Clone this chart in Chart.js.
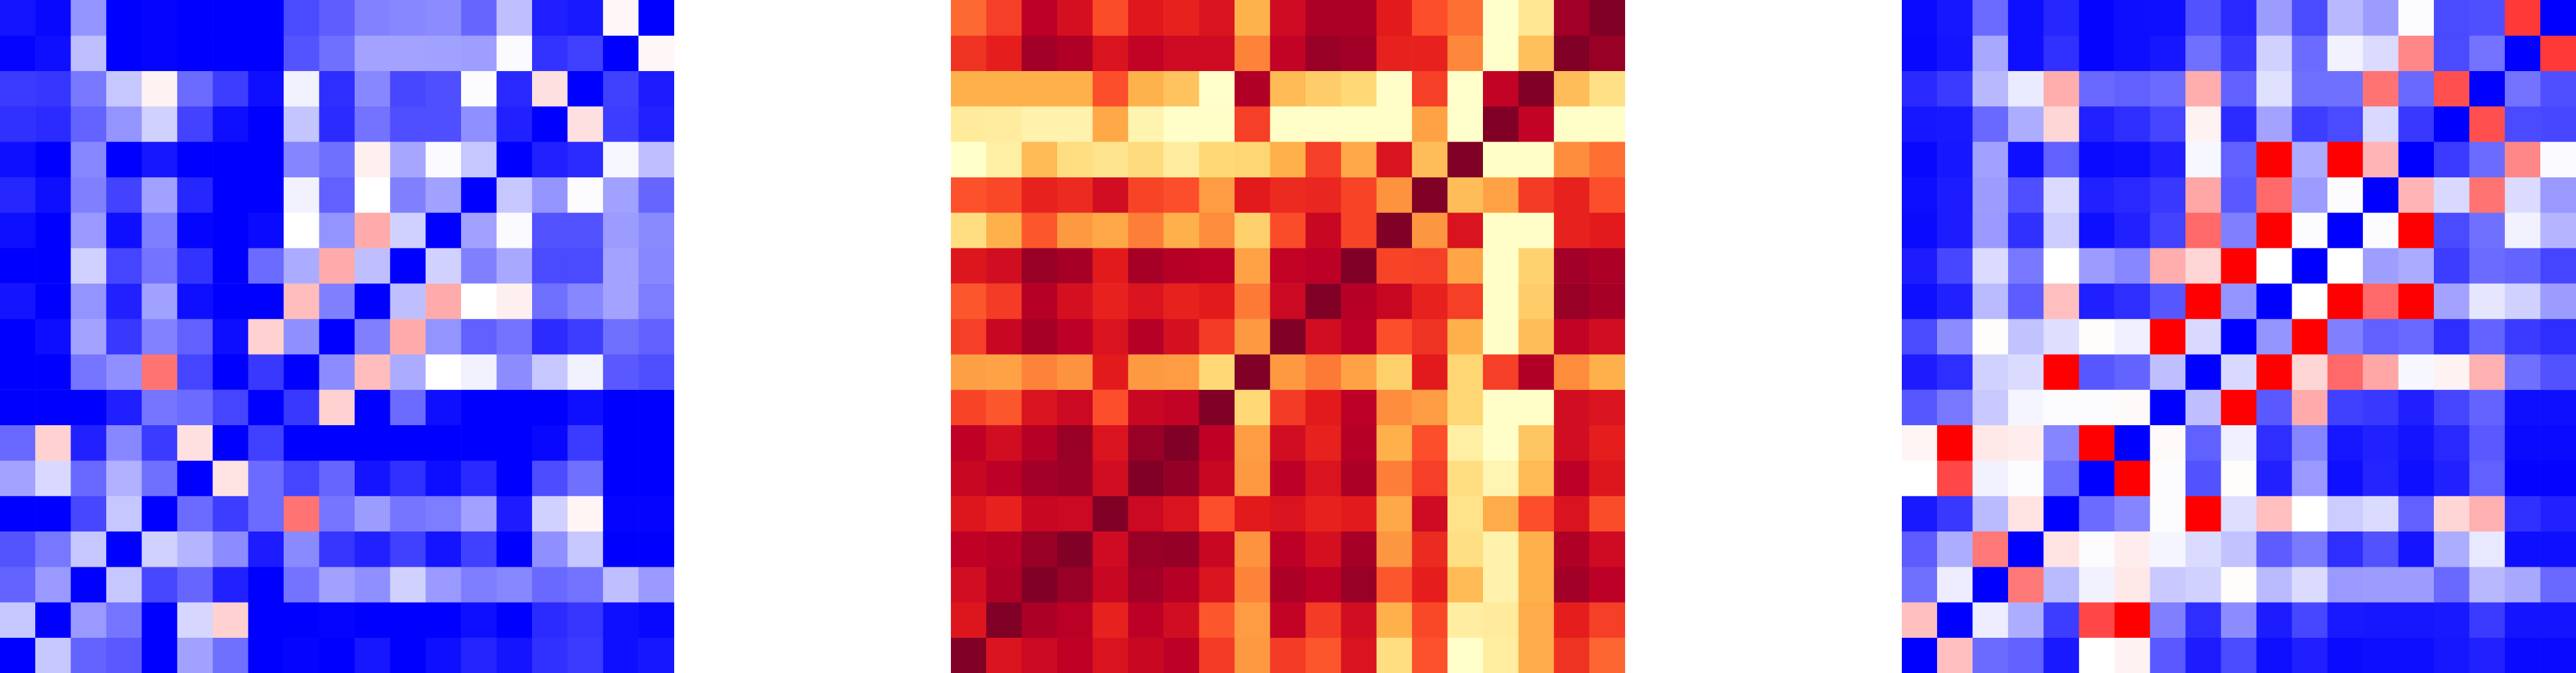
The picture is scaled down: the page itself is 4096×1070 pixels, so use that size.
<!DOCTYPE html>
<html>
<head>
<meta charset="utf-8">
<title>Heatmaps</title>
<script src="https://cdn.jsdelivr.net/npm/chart.js@4/dist/chart.umd.min.js"></script>
<style>
  html, body { margin: 0; padding: 0; background: #fff; overflow: hidden; }
  #page { position: relative; width: 4096px; height: 1070px; }
  canvas { position: absolute; top: 0; }
</style>
</head>
<body>
<div id="page">
  <canvas id="left" width="1072" height="1070" style="left:0"></canvas>
  <canvas id="middle" width="1072" height="1070" style="left:1512px"></canvas>
  <canvas id="right" width="1072" height="1070" style="left:3024px"></canvas>
</div>
<script>
const cells = ["1","2","3","4","5","6","7","8","9","10","11","12","13","14","15","16","17","18","19"];

// left panel, blue (-1) .. white (0) .. red (1)
const leftRows = [
  [-.92,-.97,-.42,-1,-.98,-1,-1,-1,-.71,-.63,-.49,-.47,-.45,-.6,-.25,-.88,-.9,.03,-1],
  [-.98,-.94,-.25,-1,-.98,-1,-1,-1,-.67,-.56,-.36,-.36,-.37,-.38,-.02,-.8,-.75,-1,.03],
  [-.77,-.79,-.53,-.22,.05,-.58,-.76,-.94,-.05,-.82,-.47,-.72,-.69,-.01,-.84,.12,-1,-.75,-.89],
  [-.81,-.83,-.61,-.42,-.18,-.74,-.94,-1,-.23,-.83,-.55,-.69,-.69,-.44,-.87,-1,.12,-.76,-.87],
  [-.94,-1,-.47,-1,-.91,-1,-1,-1,-.48,-.56,.06,-.35,-.02,-.22,-1,-.87,-.83,-.03,-.25],
  [-.85,-.94,-.5,-.74,-.37,-.85,-1,-1,-.05,-.62,0,-.5,-.37,-1,-.22,-.42,-.01,-.37,-.6],
  [-.94,-1,-.4,-.94,-.51,-.98,-1,-.96,0,-.42,.33,-.18,-1,-.37,-.02,-.68,-.68,-.39,-.46],
  [-1,-1,-.18,-.73,-.55,-.8,-1,-.58,-.33,.33,-.25,-1,-.18,-.5,-.34,-.71,-.71,-.36,-.47],
  [-.92,-1,-.42,-.87,-.37,-.94,-1,-1,.26,-.5,-1,-.25,.33,0,.06,-.56,-.47,-.36,-.51],
  [-1,-.95,-.36,-.78,-.49,-.62,-.95,.18,-.44,-1,-.5,.33,-.42,-.62,-.55,-.83,-.76,-.56,-.62],
  [-1,-1,-.54,-.44,.55,-.73,-1,-.78,-1,-.45,.26,-.33,0,-.05,-.45,-.22,-.05,-.65,-.69],
  [-1,-1,-1,-.88,-.54,-.58,-.73,-1,-.78,.18,-1,-.58,-.94,-1,-1,-1,-.94,-1,-1],
  [-.59,.18,-.87,-.47,-.77,.12,-1,-.75,-1,-1,-1,-1,-1,-1,-1,-.97,-.77,-1,-1],
  [-.36,-.15,-.59,-.31,-.56,-1,.11,-.58,-.73,-.6,-.92,-.81,-.95,-.84,-1,-.7,-.56,-1,-1],
  [-1,-1,-.72,-.22,-1,-.58,-.76,-.58,.55,-.54,-.39,-.54,-.51,-.37,-.89,-.18,.04,-.98,-.98],
  [-.67,-.53,-.22,-1,-.18,-.29,-.45,-.89,-.46,-.79,-.87,-.75,-.92,-.75,-1,-.44,-.22,-1,-1],
  [-.61,-.4,-1,-.22,-.72,-.6,-.87,-1,-.55,-.37,-.44,-.18,-.4,-.51,-.47,-.59,-.55,-.25,-.4],
  [-.22,-1,-.4,-.54,-1,-.16,.18,-1,-1,-.98,-1,-1,-1,-.94,-1,-.83,-.79,-.94,-.97],
  [-1,-.22,-.61,-.65,-1,-.37,-.56,-1,-.98,-1,-.91,-1,-.94,-.86,-.92,-.81,-.77,-.94,-.91]
];

// middle panel, pale yellow (0) .. dark red (1)
const middleRows = [
  [.57,.66,.875,.8,.63,.76,.73,.78,.375,.82,.91,.91,.75,.625,.56,0,.16,.93,1],
  [.69,.74,.93,.9,.78,.86,.82,.82,.52,.86,.95,.93,.73,.73,.51,0,.33,1,.95],
  [.38,.38,.38,.38,.625,.375,.32,0,.9,.35,.29,.25,.01,.66,0,.86,1,.34,.2],
  [.14,.13,.09,.09,.41,.08,.01,.01,.66,.01,.01,.01,.01,.43,0,1,.86,.01,.01],
  [0,.11,.35,.22,.18,.23,.13,.25,.26,.38,.66,.41,.78,.34,1,.01,.01,.5,.56],
  [.62,.64,.73,.71,.81,.65,.625,.45,.75,.71,.72,.65,.48,1,.34,.43,.67,.73,.625],
  [.22,.38,.61,.46,.41,.53,.38,.5,.28,.63,.84,.65,1,.47,.78,.01,.01,.73,.75],
  [.77,.81,.95,.92,.75,.92,.89,.875,.43,.86,.875,1,.65,.66,.42,.01,.27,.93,.91],
  [.61,.67,.89,.8,.73,.78,.73,.75,.54,.83,1,.89,.84,.73,.66,.01,.29,.95,.92],
  [.66,.84,.92,.875,.78,.89,.8,.67,.46,1,.81,.875,.625,.69,.38,.01,.34,.86,.81],
  [.44,.43,.52,.48,.75,.46,.45,.25,1,.46,.54,.43,.28,.75,.26,.66,.9,.5,.38],
  [.65,.61,.78,.83,.625,.84,.86,1,.25,.67,.75,.875,.5,.45,.26,.01,.01,.81,.78],
  [.87,.81,.89,.95,.78,.95,1,.87,.45,.81,.73,.89,.38,.625,.11,.01,.31,.81,.74],
  [.84,.875,.93,.94,.81,1,.96,.84,.46,.875,.78,.91,.53,.66,.22,.07,.35,.875,.77],
  [.77,.73,.84,.83,1,.83,.78,.625,.75,.78,.73,.75,.41,.82,.19,.4,.625,.78,.63],
  [.87,.885,.95,1,.82,.95,.96,.84,.48,.875,.8,.92,.47,.71,.21,.09,.38,.9,.82],
  [.81,.9,1,.95,.84,.93,.89,.78,.52,.91,.875,.95,.61,.74,.35,.09,.38,.93,.875],
  [.77,1,.91,.88,.73,.875,.81,.61,.45,.86,.67,.81,.38,.64,.12,.14,.4,.74,.66],
  [1,.78,.83,.87,.78,.84,.875,.67,.46,.67,.61,.78,.22,.62,0,.125,.4,.69,.58]
];

// right panel, same scale as the left one
const rightRows = [
  [-.96,-.91,-.58,-.94,-.85,-.98,-.95,-.94,-.68,-.84,-.39,-.71,-.28,-.39,-.01,-.71,-.69,.78,-1],
  [-.97,-.92,-.34,-.94,-.81,-.98,-.95,-.91,-.56,-.78,-.18,-.58,-.05,-.14,.47,-.71,-.55,-1,.78],
  [-.84,-.77,-.28,-.08,.32,-.59,-.62,-.58,.32,-.62,-.12,-.56,-.56,.55,-.59,.69,-1,-.55,-.69],
  [-.91,-.9,-.59,-.32,.16,-.87,-.82,-.73,.05,-.83,-.36,-.76,-.71,-.15,-.78,-1,.69,-.71,-.72],
  [-.97,-.91,-.37,-.94,-.62,-.96,-.95,-.88,-.03,-.62,1,-.33,1,.29,-1,-.77,-.58,.47,-.02],
  [-.95,-.89,-.39,-.69,-.14,-.87,-.84,-.78,.35,-.65,.59,-.39,-.01,-1,.29,-.15,.55,-.14,-.4],
  [-.96,-.89,-.4,-.81,-.2,-.94,-.87,-.74,.59,-.5,1,-.01,-1,-.01,1,-.71,-.56,-.05,-.29],
  [-.89,-.72,-.14,-.53,0,-.39,-.47,.32,.16,1,0,-1,0,-.38,-.33,-.76,-.58,-.61,-.73],
  [-.94,-.87,-.27,-.64,.25,-.88,-.82,-.66,1,-.42,-1,0,1,.59,1,-.36,-.1,-.18,-.39],
  [-.71,-.45,.01,-.24,-.13,.01,-.06,1,-.15,-1,-.42,1,-.5,-.62,-.59,-.82,-.61,-.77,-.82],
  [-.89,-.82,-.18,-.14,1,-.66,-.61,-.25,-1,-.15,1,.16,.59,.35,-.03,.05,.31,-.56,-.68],
  [-.66,-.53,-.21,-.04,-.01,-.01,.02,-1,-.25,1,-.65,.33,-.75,-.78,-.88,-.73,-.61,-.94,-.94],
  [.04,1,.09,.07,-.48,1,-1,.02,-.62,-.06,-.82,-.48,-.91,-.87,-.92,-.84,-.65,-.96,-.96],
  [0,.72,-.05,-.01,-.56,-1,1,-.01,-.68,.01,-.87,-.4,-.94,-.86,-.94,-.87,-.62,-.98,-.98],
  [-.9,-.78,-.27,.11,-1,-.58,-.48,-.01,1,-.13,.25,0,-.2,-.14,-.62,.16,.31,-.81,-.87],
  [-.64,-.32,.53,-1,.11,-.01,.07,-.04,-.14,-.24,-.64,-.52,-.82,-.68,-.92,-.32,-.09,-.94,-.94],
  [-.56,-.07,-1,.53,-.27,-.05,.09,-.21,-.18,.01,-.27,-.14,-.4,-.39,-.39,-.59,-.28,-.34,-.59],
  [.25,-1,-.07,-.32,-.76,.72,1,-.5,-.82,-.45,-.89,-.72,-.9,-.91,-.91,-.9,-.77,-.92,-.92],
  [-1,.25,-.58,-.62,-.9,0,.05,-.65,-.89,-.71,-.94,-.88,-.96,-.95,-.95,-.91,-.87,-.96,-.96]
];

const ylOrRd = [[255,255,204],[255,237,160],[254,217,118],[254,178,76],[253,141,60],[252,78,42],[227,26,28],[189,0,38],[128,0,38]];

function bwr(v) {
  if (v <= 0) {
    const c = Math.round((v + 1) * 255);
    return `rgb(${c},${c},255)`;
  }
  const c = Math.round((1 - v) * 255);
  return `rgb(255,${c},${c})`;
}

function heat(v) {
  const pos = v * (ylOrRd.length - 1);
  const i = Math.min(Math.floor(pos), ylOrRd.length - 2);
  const f = pos - i;
  const rgb = ylOrRd[i].map((c, k) => Math.round(c + (ylOrRd[i + 1][k] - c) * f));
  return `rgb(${rgb.join(',')})`;
}

function drawPanel(id, rows, colorOf) {
  new Chart(document.getElementById(id), {
    type: 'bar',
    data: {
      labels: cells,
      // every row is one stacked layer of unit cells
      datasets: rows.map(row => ({
        data: row.map(() => 1),
        backgroundColor: row.map(colorOf),
        borderWidth: 0,
        barPercentage: 1,
        categoryPercentage: 1
      }))
    },
    options: {
      responsive: false,
      animation: false,
      layout: { padding: 0 },
      plugins: { legend: { display: false }, tooltip: { enabled: false } },
      scales: {
        x: { display: false, stacked: true },
        y: { display: false, stacked: true, reverse: true, min: 0, max: rows.length }
      }
    }
  });
}

drawPanel('left', leftRows, bwr);
drawPanel('middle', middleRows, heat);
drawPanel('right', rightRows, bwr);
</script>
</body>
</html>
